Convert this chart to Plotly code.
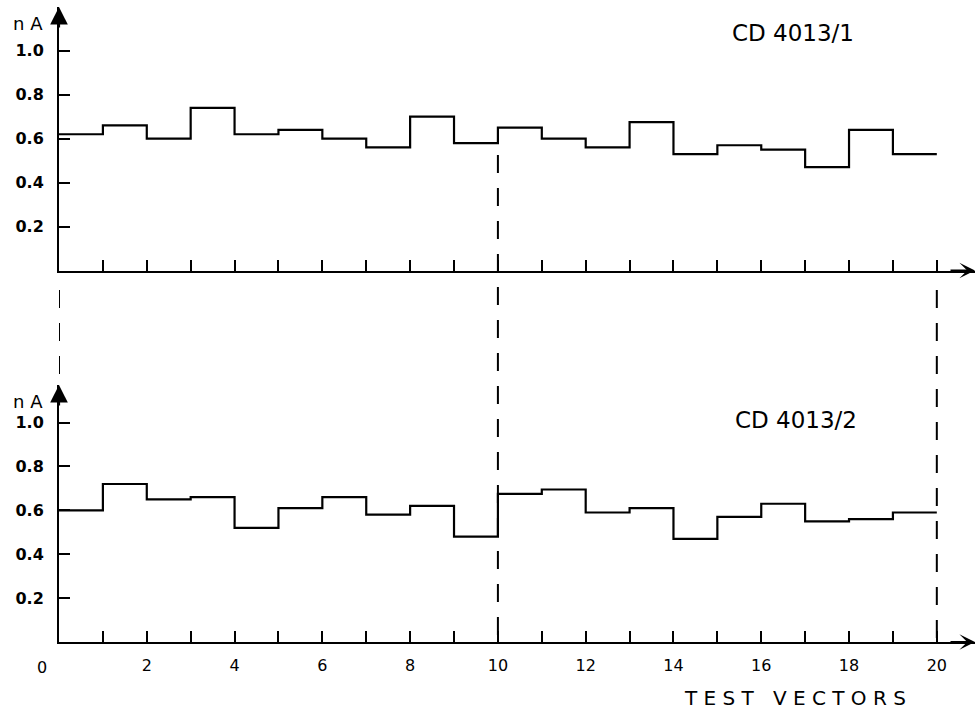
import plotly.graph_objects as go

# ---- data ----
test_vectors = list(range(0, 21))  # step edges 0..20
cd4013_1 = [0.62, 0.66, 0.60, 0.74, 0.62, 0.64, 0.60, 0.56, 0.70, 0.58,
            0.65, 0.60, 0.56, 0.675, 0.53, 0.57, 0.55, 0.47, 0.64, 0.53]
cd4013_2 = [0.60, 0.72, 0.65, 0.66, 0.52, 0.61, 0.66, 0.58, 0.62, 0.48,
            0.675, 0.695, 0.59, 0.61, 0.47, 0.57, 0.63, 0.55, 0.56, 0.59]
y_tickvals = [0.2, 0.4, 0.6, 0.8, 1.0]
y_ticktext = ["0.2", "0.4", "0.6", "0.8", "1.0"]
x_tickvals = list(range(1, 21))
x_ticktext = [str(v) if v % 2 == 0 else "" for v in x_tickvals]
titles = ["CD 4013/1", "CD 4013/2"]

# ---- layout geometry ----
W, H = 979, 710
ML, MR, MT, MB = 59, 4, 7, 68
XMAX = 20.87
TOP_DOM = [0.585, 1.0]
BOT_DOM = [0.0, 0.4047]
TOP_YMAX = 1.199
BOT_YMAX = 1.171

fig = go.Figure()

fig.add_trace(go.Scatter(
    x=test_vectors, y=cd4013_1 + [cd4013_1[-1]], mode="lines",
    line=dict(shape="hv", color="black", width=2.2),
    xaxis="x", yaxis="y", showlegend=False, hoverinfo="skip"))
fig.add_trace(go.Scatter(
    x=test_vectors, y=cd4013_2 + [cd4013_2[-1]], mode="lines",
    line=dict(shape="hv", color="black", width=2.2),
    xaxis="x2", yaxis="y2", showlegend=False, hoverinfo="skip"))

axis_common = dict(showline=True, linecolor="black", linewidth=2,
                   showgrid=False, zeroline=False, ticks="inside",
                   tickcolor="black", tickwidth=2, ticklen=11)
yfont = dict(family="DejaVu Sans", size=16, color="black", weight="bold")

fig.update_layout(
    width=W, height=H,
    margin=dict(l=ML, r=MR, t=MT, b=MB),
    paper_bgcolor="white", plot_bgcolor="white",
    xaxis=dict(axis_common, domain=[0, 1], range=[0, XMAX], anchor="y",
               tickvals=x_tickvals, showticklabels=False),
    xaxis2=dict(axis_common, domain=[0, 1], range=[0, XMAX], anchor="y2",
                matches="x", tickvals=x_tickvals, ticktext=x_ticktext,
                ticklabelstandoff=8,
                tickfont=dict(family="DejaVu Sans", size=16, color="black")),
    yaxis=dict(axis_common, domain=TOP_DOM, range=[0, TOP_YMAX], anchor="x",
               tickvals=y_tickvals, ticktext=y_ticktext, ticklabelstandoff=10,
               tickfont=yfont),
    yaxis2=dict(axis_common, domain=BOT_DOM, range=[0, BOT_YMAX], anchor="x2",
                tickvals=y_tickvals, ticktext=y_ticktext, ticklabelstandoff=10,
                tickfont=yfont),
)

annotations = []
# axis arrows
for yref, ymax in (("y", TOP_YMAX), ("y2", BOT_YMAX)):
    xref = "x" if yref == "y" else "x2"
    annotations.append(dict(x=0, y=ymax, xref=xref, yref=yref, text="",
                            showarrow=True, ax=0, ay=22, arrowhead=2,
                            arrowsize=1.6, arrowwidth=2.2, arrowcolor="black",
                            standoff=0))
    annotations.append(dict(x=XMAX, y=0, xref=xref, yref=yref, text="",
                            showarrow=True, ax=-26, ay=0, arrowhead=3,
                            arrowsize=1.3, arrowwidth=2, arrowcolor="black",
                            standoff=0))
    annotations.append(dict(x=0, y=ymax, xref=xref, yref=yref, text="n A",
                            showarrow=False, xanchor="right", yanchor="top",
                            xshift=-14, yshift=-4,
                            font=dict(family="DejaVu Sans", size=18,
                                      color="black")))

annotations.append(dict(x=16.72, y=1.08, xref="x", yref="y", text=titles[0],
                        showarrow=False, xanchor="center", yanchor="middle",
                        font=dict(family="DejaVu Sans", size=23, color="black")))
annotations.append(dict(x=16.79, y=1.012, xref="x2", yref="y2", text=titles[1],
                        showarrow=False, xanchor="center", yanchor="middle",
                        font=dict(family="DejaVu Sans", size=23, color="black")))
annotations.append(dict(x=0, y=0, xref="x2", yref="y2", text="0",
                        showarrow=False, xanchor="center", yanchor="top",
                        xshift=-17, yshift=-14,
                        font=dict(family="DejaVu Sans", size=16,
                                  color="black")))
annotations.append(dict(x=16.76, y=0, xref="x2", yref="y2",
                        text="T E S T   V E C T O R S",
                        showarrow=False, xanchor="center", yanchor="middle",
                        yshift=-56,
                        font=dict(family="DejaVu Sans", size=20,
                                  color="black")))
fig.update_layout(annotations=annotations)

# dashed guide lines
dash = dict(color="black", width=2, dash="18px,15px")
shapes = [
    dict(type="line", xref="x", yref="paper", x0=0, x1=0,
         y0=(642 - 290) / 635, y1=BOT_DOM[1], line=dash),
    dict(type="line", xref="x", yref="paper", x0=10, x1=10,
         y0=(642 - 155) / 635, y1=0, line=dash),
    dict(type="line", xref="x", yref="paper", x0=20, x1=20,
         y0=(642 - 290) / 635, y1=0, line=dash),
]
fig.update_layout(shapes=shapes)

fig.write_html("out.html")
